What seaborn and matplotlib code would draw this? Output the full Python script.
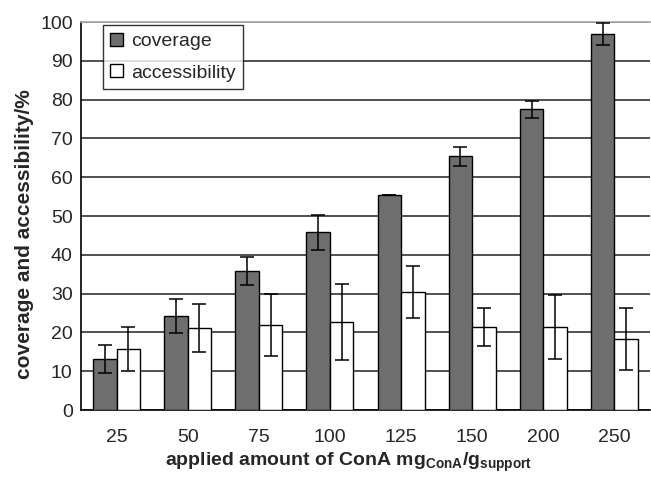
import matplotlib
matplotlib.use("Agg")
import matplotlib.pyplot as plt
import seaborn as sns
import pandas as pd
import numpy as np

amounts = ["25", "50", "75", "100", "125", "150", "200", "250"]
coverage = [13.2, 24.3, 35.8, 45.8, 55.3, 65.4, 77.5, 97.0]
coverage_err = [3.6, 4.4, 3.6, 4.5, 0.0, 2.5, 2.2, 2.8]
accessibility = [15.8, 21.1, 21.8, 22.6, 30.4, 21.4, 21.4, 18.3]
accessibility_err = [5.7, 6.1, 8.0, 9.8, 6.6, 4.9, 8.2, 8.1]
series = ["coverage", "accessibility"]

sns.set_theme(style="white")
plt.rcParams["font.family"] = ["Liberation Sans", "DejaVu Sans"]
plt.rcParams["mathtext.fontset"] = "custom"
plt.rcParams["mathtext.rm"] = "Liberation Sans:bold"
plt.rcParams["mathtext.bf"] = "Liberation Sans:bold"

df = pd.DataFrame({
    "amount": amounts * 2,
    "value": coverage + accessibility,
    "series": [series[0]] * len(amounts) + [series[1]] * len(amounts),
})

fig = plt.figure(figsize=(6.51, 4.79), dpi=100)
ax = fig.add_axes([0.1244, 0.144, 0.874, 0.810])

sns.barplot(data=df, x="amount", y="value", hue="series", order=amounts,
            hue_order=series, palette=["#6e6e6e", "#ffffff"], errorbar=None,
            width=0.66, edgecolor="black", linewidth=1.0, ax=ax, zorder=3)

for cont, errs in zip(ax.containers, [coverage_err, accessibility_err]):
    xs = [p.get_x() + p.get_width() / 2 for p in cont.patches]
    hs = [p.get_height() for p in cont.patches]
    ax.errorbar(xs, hs, yerr=errs, fmt="none", ecolor="black",
                elinewidth=1.1, capsize=5, capthick=1.1, zorder=4)

ax.set_ylim(0, 100)
ax.set_xlim(-0.5, len(amounts) - 0.5)
ax.set_yticks(np.arange(0, 101, 10))
ax.yaxis.grid(True, color="#333333", linewidth=1.2, zorder=0)
ax.set_axisbelow(True)

ax.set_xticks(np.arange(len(amounts)))
ax.set_xticklabels(amounts)
ax.set_xticks(np.arange(len(amounts) + 1) - 0.5, minor=True)
ax.tick_params(axis="x", which="major", length=0, labelsize=14, pad=14)
ax.tick_params(axis="x", which="minor", length=6, width=1.2, direction="out",
               color="black")
ax.tick_params(axis="y", which="major", length=8, width=1.2, direction="inout",
               color="black", labelsize=14, pad=2)

for side in ["left", "bottom"]:
    ax.spines[side].set_visible(True)
    ax.spines[side].set_color("black")
    ax.spines[side].set_linewidth(1.2)
ax.spines["top"].set_color("#aaaaaa")
ax.spines["right"].set_visible(False)

ax.set_ylabel("coverage and accessibility/%", fontsize=15, fontweight="bold")
ax.yaxis.set_label_coords(-0.082, 0.454)
ax.set_xlabel(r"applied amount of ConA mg$_{\mathrm{ConA}}$/g$_{\mathrm{support}}$",
              fontsize=14, fontweight="bold")
ax.xaxis.set_label_coords(0.47, -0.105)

leg = ax.legend(loc="upper left", bbox_to_anchor=(0.038, 0.992), fontsize=14,
                frameon=True, fancybox=False, edgecolor="black",
                handlelength=0.65, handleheight=0.65, handletextpad=0.4,
                borderpad=0.4, labelspacing=0.72, borderaxespad=0)
leg.get_frame().set_linewidth(1.0)
leg.set_title(None)

fig.savefig("out.png", dpi=100)
